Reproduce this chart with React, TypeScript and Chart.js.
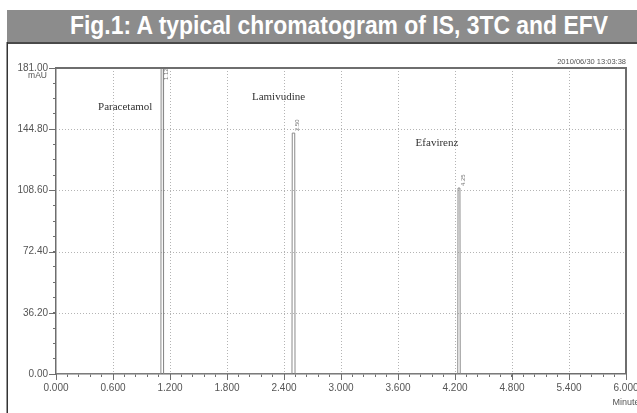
import React, { useEffect, useRef } from "react";
import { Chart, registerables } from "chart.js";

Chart.register(...registerables);

// ---- data ----
const traceTimes = [0, 1.104, 1.107, 1.129, 1.132, 2.484, 2.487, 2.513, 2.516, 4.229, 4.232, 4.252, 4.255, 4.8];
const traceMAU = [0, 0, 200, 200, 0, 0, 142.5, 142.5, 0, 0, 110, 110, 0, 0];

const peakNames = ["Paracetamol", "Lamivudine", "Efavirenz"];
const peakTimes = [1.118, 2.5, 4.242];
const peakHeights = [200, 142.5, 110];
const peakRTLabels = ["1.12", "2.50", "4.25"];

const yMajorTicks = [0, 36.2, 72.4, 108.6, 144.8, 181];
const yMajorLabels = ["0.00", "36.20", "72.40", "108.60", "144.80", "181.00"];
const xMajorTicks = [0, 0.6, 1.2, 1.8, 2.4, 3.0, 3.6, 4.2, 4.8, 5.4, 6.0];
const xMajorLabels = ["0.000", "0.600", "1.200", "1.800", "2.400", "3.000", "3.600", "4.200", "4.800", "5.400", "6.000"];

const titleText = "Fig.1: A typical chromatogram of IS, 3TC and EFV";
const timestamp = "2010/06/30 13:03:38";
const yUnit = "mAU";
const xUnit = "Minute";

// label offsets (style) relative to each peak: [dx, y from plot top]
const nameOffsets = [
  [-37, 39],
  [-15, 29],
  [-22, 75],
];

const AREA = { left: 56, top: 68, right: 626, bottom: 374 };
const W = 637;
const H = 413;

function withMinor(majors: number[], parts: number): number[] {
  const out: number[] = [];
  for (let i = 0; i < majors.length; i++) {
    out.push(majors[i]);
    if (i < majors.length - 1) {
      const step = (majors[i + 1] - majors[i]) / parts;
      for (let k = 1; k < parts; k++) out.push(majors[i] + step * k);
    }
  }
  return out;
}

export default function App() {
  const ref = useRef<HTMLCanvasElement | null>(null);

  useEffect(() => {
    if (!ref.current) return;
    const yAll = withMinor(yMajorTicks, 4);
    const xAll = withMinor(xMajorTicks, 5);

    const decor = {
      id: "decor",
      beforeDatasetsDraw(chart: any) {
        const c = chart.ctx;
        const a = chart.chartArea;
        const xs = chart.scales.x;
        const ys = chart.scales.y;
        c.save();
        c.strokeStyle = "#b4b4b4";
        c.lineWidth = 1;
        c.setLineDash([1, 2]);
        c.beginPath();
        yMajorTicks.forEach((v) => {
          if (v <= 0 || v >= 181) return;
          const y = Math.round(ys.getPixelForValue(v)) + 0.5;
          c.moveTo(a.left, y);
          c.lineTo(a.right, y);
        });
        xMajorTicks.forEach((v) => {
          if (v <= 0 || v >= 6) return;
          const x = Math.round(xs.getPixelForValue(v)) + 0.5;
          c.moveTo(x, a.top);
          c.lineTo(x, a.bottom);
        });
        c.stroke();
        c.restore();
      },
      afterDraw(chart: any) {
        const c = chart.ctx;
        const a = chart.chartArea;
        const xs = chart.scales.x;
        const ys = chart.scales.y;
        c.save();
        // frame top / right
        c.strokeStyle = "#6e6e6e";
        c.lineWidth = 2;
        c.beginPath();
        c.moveTo(a.left, a.top);
        c.lineTo(a.right, a.top);
        c.lineTo(a.right, a.bottom);
        c.stroke();
        // major ticks longer
        c.lineWidth = 1;
        c.beginPath();
        yMajorTicks.forEach((v) => {
          const y = Math.round(ys.getPixelForValue(v)) + 0.5;
          c.moveTo(a.left - 7, y);
          c.lineTo(a.left, y);
        });
        xMajorTicks.forEach((v) => {
          const x = Math.round(xs.getPixelForValue(v)) + 0.5;
          c.moveTo(x, a.bottom);
          c.lineTo(x, a.bottom + 6);
        });
        c.stroke();
        // units + timestamp
        c.fillStyle = "#555";
        c.font = "8.5px 'Liberation Sans', sans-serif";
        c.textAlign = "right";
        c.textBaseline = "middle";
        c.fillText(yUnit, a.left - 9, a.top + 8);
        c.font = "7.5px 'Liberation Sans', sans-serif";
        c.fillText(timestamp, a.right, a.top - 6);
        c.textAlign = "center";
        c.font = "9px 'Liberation Sans', sans-serif";
        c.fillText(xUnit, a.right, a.bottom + 29);
        // compound names and retention labels
        peakNames.forEach((name, i) => {
          const px = xs.getPixelForValue(peakTimes[i]);
          const py = Math.max(ys.getPixelForValue(peakHeights[i]), a.top + 14);
          c.fillStyle = "#333";
          c.font = "11px 'Liberation Serif', serif";
          c.textAlign = "center";
          c.textBaseline = "middle";
          c.fillText(name, px + nameOffsets[i][0], a.top + nameOffsets[i][1]);
          c.save();
          c.translate(px + 4, py - 2);
          c.rotate(-Math.PI / 2);
          c.font = "6px 'Liberation Sans', sans-serif";
          c.fillStyle = "#777";
          c.textAlign = "left";
          c.textBaseline = "middle";
          c.fillText(peakRTLabels[i], 0, 0);
          c.restore();
        });
        c.restore();
      },
    };

    const chart = new Chart(ref.current, {
      type: "line",
      data: {
        datasets: [
          {
            data: traceTimes.map((t, i) => ({ x: t, y: traceMAU[i] })),
            borderColor: "#8a8a8a",
            borderWidth: 1,
            pointRadius: 0,
            tension: 0,
          },
        ],
      },
      options: {
        animation: false,
        responsive: false,
        devicePixelRatio: 1,
        layout: { padding: { left: 0, top: AREA.top, right: W - AREA.right, bottom: 0 } },
        plugins: { legend: { display: false }, tooltip: { enabled: false }, title: { display: false } },
        scales: {
          x: {
            type: "linear",
            min: 0,
            max: 6,
            afterBuildTicks: (s: any) => {
              s.ticks = xAll.map((v) => ({ value: v }));
            },
            afterFit: (s: any) => {
              s.height = H - AREA.bottom;
              s.paddingLeft = 0;
              s.paddingRight = 0;
            },
            ticks: {
              autoSkip: false,
              maxRotation: 0,
              minRotation: 0,
              padding: 5,
              color: "#555",
              font: { size: 10, family: "'Liberation Sans', sans-serif" },
              callback: (v: any) => {
                const i = xMajorTicks.findIndex((m) => Math.abs(m - v) < 1e-6);
                return i >= 0 ? xMajorLabels[i] : "";
              },
            },
            grid: {
              drawOnChartArea: false,
              color: "#6e6e6e",
              tickColor: "#6e6e6e",
              tickLength: 3,
              lineWidth: 1,
            },
            border: { display: true, color: "#6e6e6e", width: 1.5 },
          },
          y: {
            type: "linear",
            min: 0,
            max: 181,
            afterBuildTicks: (s: any) => {
              s.ticks = yAll.map((v) => ({ value: v }));
            },
            afterFit: (s: any) => {
              s.width = AREA.left;
              s.paddingTop = 0;
              s.paddingBottom = 0;
            },
            ticks: {
              autoSkip: false,
              padding: 5,
              color: "#555",
              font: { size: 10, family: "'Liberation Sans', sans-serif" },
              callback: (v: any) => {
                const i = yMajorTicks.findIndex((m) => Math.abs(m - v) < 1e-6);
                return i >= 0 ? yMajorLabels[i] : "";
              },
            },
            grid: {
              drawOnChartArea: false,
              color: "#6e6e6e",
              tickColor: "#6e6e6e",
              tickLength: 3,
              lineWidth: 1,
            },
            border: { display: true, color: "#6e6e6e", width: 1.5 },
          },
        },
      },
      plugins: [decor],
    } as any);
    return () => chart.destroy();
  }, []);

  return (
    <div style={{ position: "absolute", left: 0, top: 0, width: W, height: H, background: "#fff", overflow: "hidden" }}>
      <svg width={W} height={H} style={{ position: "absolute", left: 0, top: 0 }}>
        <rect x={7} y={10} width={W - 7} height={32} fill="#8c8c8c" />
        <rect x={7} y={42} width={W - 7} height={2} fill="#4a4a4a" />
        <rect x={6.5} y={42} width={1.5} height={H - 42} fill="#333" />
        <text
          x={339}
          y={34}
          fill="#ffffff"
          fontFamily="'Liberation Sans', Arial, sans-serif"
          fontWeight="bold"
          fontSize={25}
          textAnchor="middle"
          textLength={538}
          lengthAdjust="spacingAndGlyphs"
        >
          {titleText}
        </text>
      </svg>
      <canvas ref={ref} width={W} height={H} style={{ position: "absolute", left: 0, top: 0, width: W, height: H }} />
    </div>
  );
}
